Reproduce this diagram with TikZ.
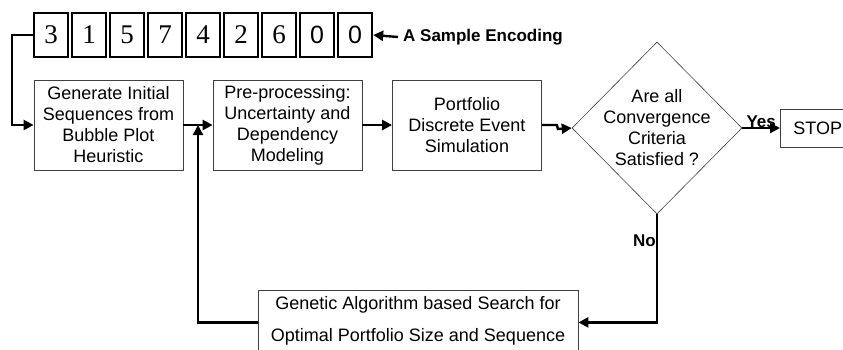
\documentclass[tikz,border=0pt]{standalone}
\usepackage{fontspec}
\setmainfont{Liberation Sans}
\newfontfamily\genefont{Liberation Serif}
\usetikzlibrary{shapes.geometric,arrows.meta}
\tikzset{
  box/.style={draw=black!75, line width=0.8pt, minimum width=149pt, minimum height=90pt,
    inner sep=0pt, align=center, font=\fontsize{18}{21}\selectfont},
  gene/.style={draw, line width=2.4pt, minimum width=34pt, minimum height=44pt,
    inner sep=0pt, font=\genefont\fontsize{27}{27}\selectfont},
  flow/.style={line width=2.4pt, -{Triangle[length=10pt,width=10pt]}},
  lbl/.style={font=\bfseries\fontsize{17}{17}\selectfont, inner sep=0pt}
}
\begin{document}
\begin{tikzpicture}[x=1pt,y=-1pt]
            \path[use as bounding box, clip] (0,0) rectangle (843,349);
            % the encoding
            \foreach \g [count=\i] in {3,1,5,7,4,2,6}
              \draw (13+38*\i,35) node[gene](g\i) {\g};
            \draw (317,35) node[gene, font=\fontsize{25}{25}\selectfont](g8) {0};
            \draw (355,35) node[gene, font=\fontsize{25}{25}\selectfont](g9) {0};
            \draw (398,37) node[anchor=west, lbl, inner xsep=5pt](enc) {A Sample Encoding};
            \draw[flow] (enc.west) -- (g9.east);
            % main flow
            \draw (108.5,125) node[box](A) {Generate Initial\\Sequences from\\Bubble Plot\\Heuristic};
            \draw (287.5,125) node[box](B) {Pre-processing:\\Uncertainty and\\Dependency\\Modeling};
            \draw (467,125) node[box](C) {Portfolio\\Discrete Event\\Simulation};
            \draw (657,128) node[draw=black!75, line width=0.6pt, diamond, minimum width=170pt, minimum height=172pt, inner sep=0pt](D) {};
            \draw (D.center) node[align=center, font=\fontsize{18}{21}\selectfont](Dt) {Are all\\Convergence\\Criteria\\Satisfied ?};
            \draw (780,128) node[anchor=west, draw=black!75, line width=0.8pt, minimum width=90pt, minimum height=38pt, inner xsep=13pt, text width=64pt, font=\fontsize{18}{21}\selectfont](S) {STOP};
            \draw (418,322) node[box, minimum width=320pt, minimum height=64pt, anchor=north, yshift=32pt](G) {};
            \draw (418,305) node[font=\fontsize{18}{21}\selectfont](Gt1) {Genetic Algorithm based Search for};
            \draw (418,337) node[font=\fontsize{18}{21}\selectfont](Gt2) {Optimal Portfolio Size and Sequence};
            \draw[flow] (g1.west) -- ++(-21,0) |- (A.west);
            \draw[flow] (A) -- (B);
            \draw[flow] (B) -- (C);
            \draw[flow] (C.east) -- ++(15,0) -- ++(1,4) -- (D.west);
            \draw[flow] (D.east) -- node[above, lbl, yshift=-1pt]{Yes} (S.west);
            \draw[flow] (D.south) |- node[pos=0.12, left, lbl, inner xsep=0pt]{No} (G.east);
            \draw[flow] (G.west) -| (198,125);
        \end{tikzpicture}
\end{document}
